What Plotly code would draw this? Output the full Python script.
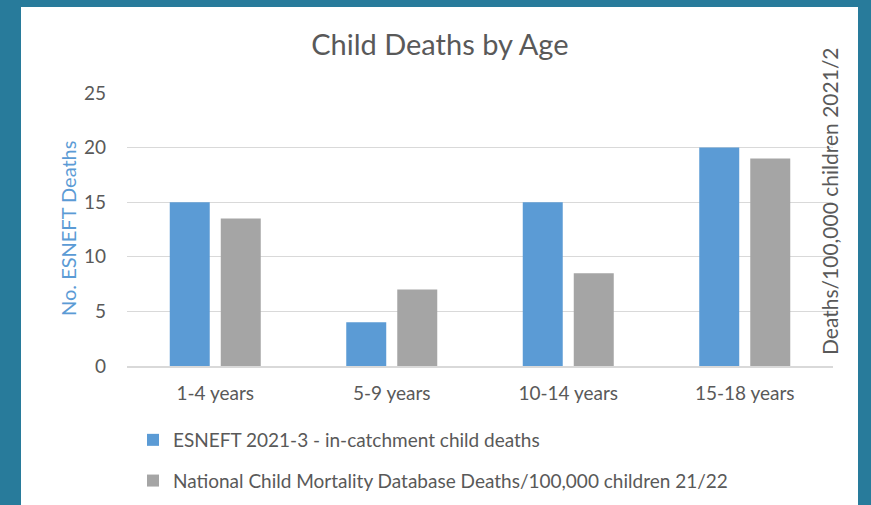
import plotly.graph_objects as go

# Chart data
age_groups = ["1-4 years", "5-9 years", "10-14 years", "15-18 years"]
esneft_deaths = [15, 4, 15, 20]
national_rate = [13.5, 7, 8.5, 19]

series_names = [
    "ESNEFT 2021-3 - in-catchment child deaths",
    "National Child Mortality Database Deaths/100,000 children 21/22",
]
y_ticks = [0, 5, 10, 15, 20, 25]

W, H = 871, 505
L, R, T, B = 127, 38, 93, 139
pw, ph = W - L - R, H - T - B


def px_x(v):
    return (v - L) / pw


def px_y(v):
    return (H - B - v) / ph


FONT = "Lato, 'Open Sans', sans-serif"
TXT = "#595959"

fig = go.Figure()
fig.add_trace(go.Bar(
    x=age_groups, y=esneft_deaths, name=series_names[0],
    marker=dict(color="#5B9BD5", line=dict(width=0)),
    offsetgroup="a", legendgroup="a", yaxis="y",
))
fig.add_trace(go.Bar(
    x=age_groups, y=national_rate, name=series_names[1],
    marker=dict(color="#A5A5A5", line=dict(width=0)),
    offsetgroup="b", legendgroup="b", yaxis="y2",
))

fig.update_layout(
    width=W, height=H,
    margin=dict(l=L, r=R, t=T, b=B, pad=0, autoexpand=False),
    paper_bgcolor="#287b9b",
    plot_bgcolor="rgba(0,0,0,0)",
    font=dict(family=FONT, color=TXT, size=19),
    barmode="group", bargap=0.422, bargroupgap=0.216,
    title=dict(text="Child Deaths by Age", x=0.505, xanchor="center",
               y=1 - 45 / H, yanchor="middle",
               font=dict(size=29, color=TXT, family=FONT)),
    xaxis=dict(showgrid=False, showline=True, linecolor="#d9d9d9", linewidth=1.5,
               ticks="", ticklabelstandoff=9, tickfont=dict(size=19, color=TXT)),
    yaxis=dict(range=[0, 25], tickvals=y_ticks, showgrid=True, gridcolor="#d9d9d9",
               gridwidth=1.2, zeroline=False, showline=False, ticks="",
               ticklabelstandoff=20, tickfont=dict(size=19, color=TXT)),
    yaxis2=dict(range=[0, 25], overlaying="y", side="right", showgrid=False,
                showticklabels=False, zeroline=False, showline=False, ticks=""),
    showlegend=True,
    legend=dict(x=px_x(133), xanchor="left", y=px_y(421), yanchor="top",
                orientation="v", traceorder="grouped", tracegroupgap=13,
                bgcolor="rgba(0,0,0,0)", font=dict(size=19, color=TXT),
                itemwidth=30),
    shapes=[dict(type="rect", xref="paper", yref="paper", layer="below",
                 x0=px_x(21), x1=px_x(858), y0=px_y(H + 20), y1=px_y(7),
                 fillcolor="white", line=dict(width=0))],
    annotations=[
        dict(text="No. ESNEFT Deaths", textangle=-90, xref="paper", yref="paper",
             x=px_x(68), y=px_y(229), xanchor="center", yanchor="middle",
             showarrow=False, font=dict(size=20, color="#5B9BD5", family=FONT)),
        dict(text="Deaths/100,000 children 2021/2", textangle=-90, xref="paper",
             yref="paper", x=px_x(829), y=px_y(201), xanchor="center",
             yanchor="middle", showarrow=False,
             font=dict(size=21, color=TXT, family=FONT)),
    ],
)

fig.write_html("out.html")
